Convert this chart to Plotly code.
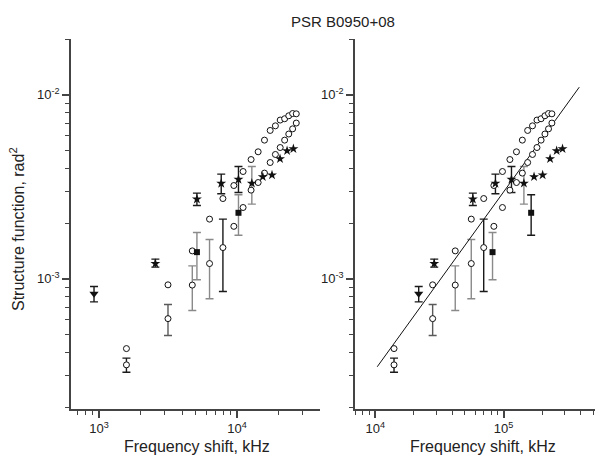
import plotly.graph_objects as go

# ---- data ----
# open circles, upper sequence (no error bars)
circ_hi_x_left = [1580, 3160, 4740, 6320, 7900, 9480, 11060, 12640, 14220, 15800, 17380, 18960, 20540, 22120, 23700, 25280, 26860]
circ_hi_x_right = [14000, 28000, 42000, 56000, 70000, 84000, 98000, 112000, 126000, 140000, 154000, 168000, 182000, 196000, 210000, 224000, 238000]
circ_hi_y = [4.18e-4, 9.28e-4, 1.419e-3, 2.111e-3, 2.731e-3, 3.214e-3, 3.83e-3, 4.448e-3, 4.90e-3, 5.67e-3, 6.40e-3, 6.78e-3, 7.29e-3, 7.41e-3, 7.69e-3, 7.91e-3, 7.88e-3]

# open circles, lower sequence (first five carry error bars)
circ_lo_x_left = [1580, 3160, 4740, 6320, 7900, 9480, 11060, 12640, 14220, 15800, 17380, 18960, 20540, 22120, 23700, 25280, 26860]
circ_lo_x_right = [14000, 28000, 42000, 56000, 70000, 84000, 98000, 112000, 126000, 140000, 154000, 168000, 182000, 196000, 210000, 224000, 238000]
circ_lo_y = [3.41e-4, 6.08e-4, 9.25e-4, 1.211e-3, 1.479e-3, 1.929e-3, 2.441e-3, 3.034e-3, 3.337e-3, 3.754e-3, 4.285e-3, 4.74e-3, 5.17e-3, 5.67e-3, 6.12e-3, 6.53e-3, 7.02e-3]
circ_lo_hi = [3.71e-4, 7.25e-4, 1.177e-3, 1.636e-3, 2.111e-3]
circ_lo_lo = [3.11e-4, 4.92e-4, 6.73e-4, 7.79e-4, 8.53e-4]

# stars (first five carry error bars)
star_x_left = [2560, 5120, 7680, 10240, 12800, 15360, 17920, 20480, 23040, 25600]
star_x_right = [28800, 57600, 86400, 115200, 144000, 172800, 201600, 230400, 259200, 288000]
star_y = [1.211e-3, 2.711e-3, 3.30e-3, 3.466e-3, 3.304e-3, 3.583e-3, 3.661e-3, 4.49e-3, 4.96e-3, 5.09e-3]
star_hi = [1.280e-3, 2.923e-3, 3.707e-3, 4.077e-3, 4.077e-3]
star_lo = [1.158e-3, 2.502e-3, 2.897e-3, 2.947e-3, 2.547e-3]

# triangle
tri_x_left = [920]
tri_x_right = [21800]
tri_y = [8.29e-4]
tri_hi = [9.08e-4]
tri_lo = [7.50e-4]

# squares
sq_x_left = [5120, 10240]
sq_x_right = [82000, 164000]
sq_y = [1.397e-3, 2.285e-3]
sq_hi = [1.786e-3, 2.861e-3]
sq_lo = [9.88e-4, 1.727e-3]

# fitted line (right panel)
line_x = [10360, 389000]
line_y = [3.33e-4, 1.10e-2]

GREY = "#8a8a8a"
DARK = "#1a1a1a"
circ_err_col = [DARK, "#5a5a5a", GREY, GREY, DARK]
star_err_col = [DARK, DARK, DARK, DARK, GREY]
sq_err_col = {"left": [GREY, GREY], "right": [GREY, DARK]}

FONT = "Liberation Sans, Arial, sans-serif"

fig = go.Figure()


def err_bar(x, y, hi, lo, col, xa, ya):
    fig.add_trace(go.Scatter(
        x=[x], y=[y], mode="markers", xaxis=xa, yaxis=ya,
        marker=dict(size=1, opacity=0),
        error_y=dict(type="data", symmetric=False, array=[hi - y], arrayminus=[y - lo],
                     color=col, thickness=1.4, width=4),
        showlegend=False, hoverinfo="skip",
    ))


for side, xa, ya in [("left", "x", "y"), ("right", "x2", "y2")]:
    cx_hi = circ_hi_x_left if side == "left" else circ_hi_x_right
    cx_lo = circ_lo_x_left if side == "left" else circ_lo_x_right
    sx = star_x_left if side == "left" else star_x_right
    tx = tri_x_left if side == "left" else tri_x_right
    qx = sq_x_left if side == "left" else sq_x_right

    # error bars first, markers on top
    for i in range(len(circ_lo_hi)):
        err_bar(cx_lo[i], circ_lo_y[i], circ_lo_hi[i], circ_lo_lo[i], circ_err_col[i], xa, ya)
    for i in range(len(star_hi)):
        err_bar(sx[i], star_y[i], star_hi[i], star_lo[i], star_err_col[i], xa, ya)
    err_bar(tx[0], tri_y[0], tri_hi[0], tri_lo[0], DARK, xa, ya)
    for i in range(len(sq_y)):
        err_bar(qx[i], sq_y[i], sq_hi[i], sq_lo[i], sq_err_col[side][i], xa, ya)

    if side == "right":
        fig.add_trace(go.Scatter(x=line_x, y=line_y, mode="lines", xaxis=xa, yaxis=ya,
                                 line=dict(color="#111", width=1), showlegend=False))

    circ = dict(symbol="circle", size=6, color="white", line=dict(color="#111", width=1))
    fig.add_trace(go.Scatter(x=cx_hi, y=circ_hi_y, mode="markers", xaxis=xa, yaxis=ya,
                             marker=circ, showlegend=False))
    fig.add_trace(go.Scatter(x=cx_lo, y=circ_lo_y, mode="markers", xaxis=xa, yaxis=ya,
                             marker=circ, showlegend=False))
    fig.add_trace(go.Scatter(x=sx, y=star_y, mode="markers", xaxis=xa, yaxis=ya,
                             marker=dict(symbol="star", size=7.5, color="#111", line=dict(width=0)),
                             showlegend=False))
    fig.add_trace(go.Scatter(x=tx, y=tri_y, mode="markers", xaxis=xa, yaxis=ya,
                             marker=dict(symbol="triangle-down", size=8, color="#111", line=dict(width=0)),
                             showlegend=False))
    fig.add_trace(go.Scatter(x=qx, y=sq_y, mode="markers", xaxis=xa, yaxis=ya,
                             marker=dict(symbol="square", size=6, color="#111", line=dict(width=0)),
                             showlegend=False))


def minor_vals(lo_exp, hi_exp):
    return [k * 10 ** e for e in range(lo_exp, hi_exp) for k in range(2, 10)]


def log_axis(domain, rng, majors, labels, minors, anchor):
    return dict(
        type="log", domain=domain, range=rng, anchor=anchor, automargin=False,
        showline=True, linecolor="#444", linewidth=1.5, mirror=False,
        showgrid=False, zeroline=False,
        ticks="outside", ticklen=7, tickwidth=1.5, tickcolor="#444",
        tickmode="array", tickvals=majors, ticktext=labels,
        tickfont=dict(family=FONT, size=13, color="#222"),
        minor=dict(ticks="outside", ticklen=4, tickwidth=1.2, tickcolor="#444",
                   tickmode="array", tickvals=minors, showgrid=False),
    )


# page has an 8 px body margin, so work in page pixels and shift
OFF = 8
W, H = 603 - OFF, 461 - OFF


def px(p):
    return (p - OFF) / W


def py(p):
    return (H - (p - OFF)) / H


y_dom = [py(409), py(39)]
y_rng = [-3.707, -1.697]
y_major = [1e-3, 1e-2]
y_lab = ["10<sup>-3</sup>", "10<sup>-2</sup>"]
y_minor = minor_vals(-4, -1)

fig.update_layout(
    template="none",
    width=W, height=H,
    margin=dict(l=0, r=0, t=0, b=0, autoexpand=False),
    paper_bgcolor="white", plot_bgcolor="white",
    font=dict(family=FONT, color="#222"),
    xaxis=log_axis([px(71), px(320)], [2.797, 4.601], [1e3, 1e4],
                   ["10<sup>3</sup>", "10<sup>4</sup>"], minor_vals(2, 5), "y"),
    xaxis2=log_axis([px(355), px(602)], [3.842, 5.767], [1e4, 1e5],
                    ["10<sup>4</sup>", "10<sup>5</sup>"], minor_vals(3, 6), "y2"),
    yaxis=log_axis(y_dom, y_rng, y_major, y_lab, y_minor, "x"),
    yaxis2=log_axis(y_dom, y_rng, y_major, y_lab, y_minor, "x2"),
)

fig.add_annotation(x=px(343), y=py(11), xref="paper", yref="paper", showarrow=False,
                   xanchor="center", yanchor="top",
                   text="PSR B0950+08", font=dict(family=FONT, size=15, color="#222"))
fig.add_annotation(x=px(197), y=py(446), xref="paper", yref="paper", showarrow=False,
                   xanchor="center", yanchor="middle",
                   text="Frequency shift, kHz", font=dict(family=FONT, size=16, color="#222"))
fig.add_annotation(x=px(483), y=py(446), xref="paper", yref="paper", showarrow=False,
                   xanchor="center", yanchor="middle",
                   text="Frequency shift, kHz", font=dict(family=FONT, size=16, color="#222"))
fig.add_annotation(x=px(17), y=py(229), xref="paper", yref="paper", showarrow=False,
                   xanchor="center", yanchor="middle", textangle=-90,
                   text="Structure function, rad<sup>2</sup>",
                   font=dict(family=FONT, size=16, color="#222"))

fig.write_html("out.html")
